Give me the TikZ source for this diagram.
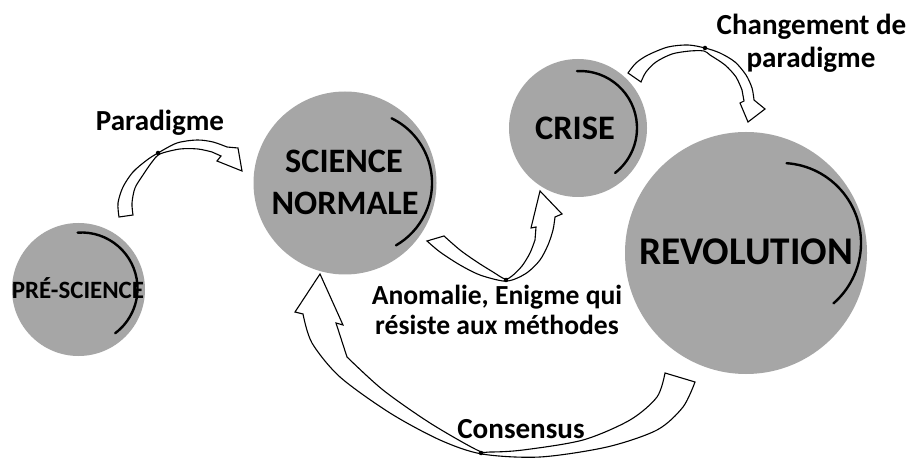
\documentclass[tikz,border=0pt]{standalone}
\usepackage{fontspec}
\setmainfont{Carlito}
\definecolor{discgray}{RGB}{166,166,166}
\begin{document}
\begin{tikzpicture}[x=1bp,y=-1bp,
  disc/.style={circle,fill=discgray,draw=none,inner sep=0pt,minimum size=#1},
  rim/.style={line width=2.4bp,line cap=round},
  blockarrow/.style={draw=black,fill=white,line width=1.1bp,line join=miter},
  joint/.style={circle,fill=black,inner sep=0pt,minimum size=4.5bp},
  lbl/.style={font=\bfseries\fontsize{#1}{#1}\selectfont,anchor=base,inner sep=0pt},
  lbl/.default=29.2,
  intext/.style={font=\bfseries\fontsize{#1}{#1}\selectfont,anchor=base,inner sep=0pt}]
\useasboundingbox (0,0) rectangle (912,461);
\fill[white] (0,0) rectangle (912,461);

% discs
\node[disc=133bp] (pre) at (78.5,289.5) {};
\node[disc=183bp] (sn) at (345,183) {};
\node[disc=138bp] (crise) at (578,128) {};
\node[disc=242bp] (rev) at (746,253) {};

% inner rims
\coordinate (preC) at (81.5,288.5);
\coordinate (snC) at (360,183);
\coordinate (criseC) at (580,128);
\coordinate (revC) at (781,243);
\draw[rim] ([shift={(94:56bp)}]preC) arc[start angle=94,end angle=-53,radius=56bp];
\draw[rim] ([shift={(64:72bp)}]snC) arc[start angle=64,end angle=-60,radius=72bp];
\draw[rim] ([shift={(93:57bp)}]criseC) arc[start angle=93,end angle=-52,radius=57bp];
\draw[rim] ([shift={(86:80bp)}]revC) arc[start angle=86,end angle=-49,radius=80bp];

% disc texts
\node[intext=25] (preT) at (78,299) {PRÉ-SCIENCE};
\node[intext=34.4] (snT1) at (344,173) {SCIENCE};
\node[intext=34.4] (snT2) at (345,215) {NORMALE};
\node[intext=34.5] (criseT) at (575,140) {CRISE};
\node[intext=39.4] (revT) at (746,265) {REVOLUTION};

% block arrows
\draw[blockarrow] plot[smooth] coordinates {(119,217) (118,203) (123,187) (133,172) (147,160) (158,153) (177,143) (197,140) (213,142) (227,147)}
  -- (238,148) -- (242,171) -- (217,161) -- (221,156)
  -- plot[smooth] coordinates {(212,152) (198,149) (180,149) (160,154) (152,162) (143,175) (135,188) (132,203) (133,215)} -- cycle;

\draw[blockarrow] plot[smooth] coordinates {(427,241) (440,252) (460,265) (480,275) (503,281) (515,279) (528,272) (540,260) (548,245) (553,230) (555,217)}
  -- (562,214) -- (540,191) -- (531,228) -- (536,227)
  -- plot[smooth] coordinates {(535,240) (530,253) (522,266) (512,276) (505,279) (493,272) (477,262) (460,250) (444,236)} -- cycle;

\draw[blockarrow] plot[smooth] coordinates {(628,73) (636,63) (648,55) (668,47) (688,45) (705,48) (720,53) (735,62) (746,75) (752,88) (754,100)}
  -- (765,109) -- (748,122) -- (740,103) -- (744,101)
  -- plot[smooth] coordinates {(742,90) (736,77) (725,65) (710,55) (704,51) (690,51) (672,54) (656,62) (646,72) (641,82)} -- cycle;

\draw[blockarrow] plot[smooth] coordinates {(695,382) (683,407) (657,430) (607,447) (540,457) (482,454) (440,440) (390,413) (340,377) (312,343) (303,314)}
  -- (295,312) -- (320,274) -- (343,325) -- (336,323)
  -- plot[smooth] coordinates {(347,357) (383,390) (430,423) (477,450) (490,452) (523,450) (583,440) (630,420) (657,397) (665,373)} -- cycle;

% joints
\node[joint] (j1) at (158,153) {};
\node[joint] (j2) at (506,280) {};
\node[joint] (j3) at (705,48) {};
\node[joint] (j4) at (481,453) {};

% labels
\node[lbl] (lParadigme) at (160,131) {Paradigme};
\node[lbl] (lChg1) at (811.5,35) {Changement de};
\node[lbl] (lChg2) at (811,68) {paradigme};
\node[lbl=27.7] (lAno1) at (497,305) {Anomalie, Enigme qui};
\node[lbl=27.7] (lAno2) at (497,335) {résiste aux méthodes};
\node[lbl] (lCons) at (521,438) {Consensus};
\end{tikzpicture}
\end{document}
